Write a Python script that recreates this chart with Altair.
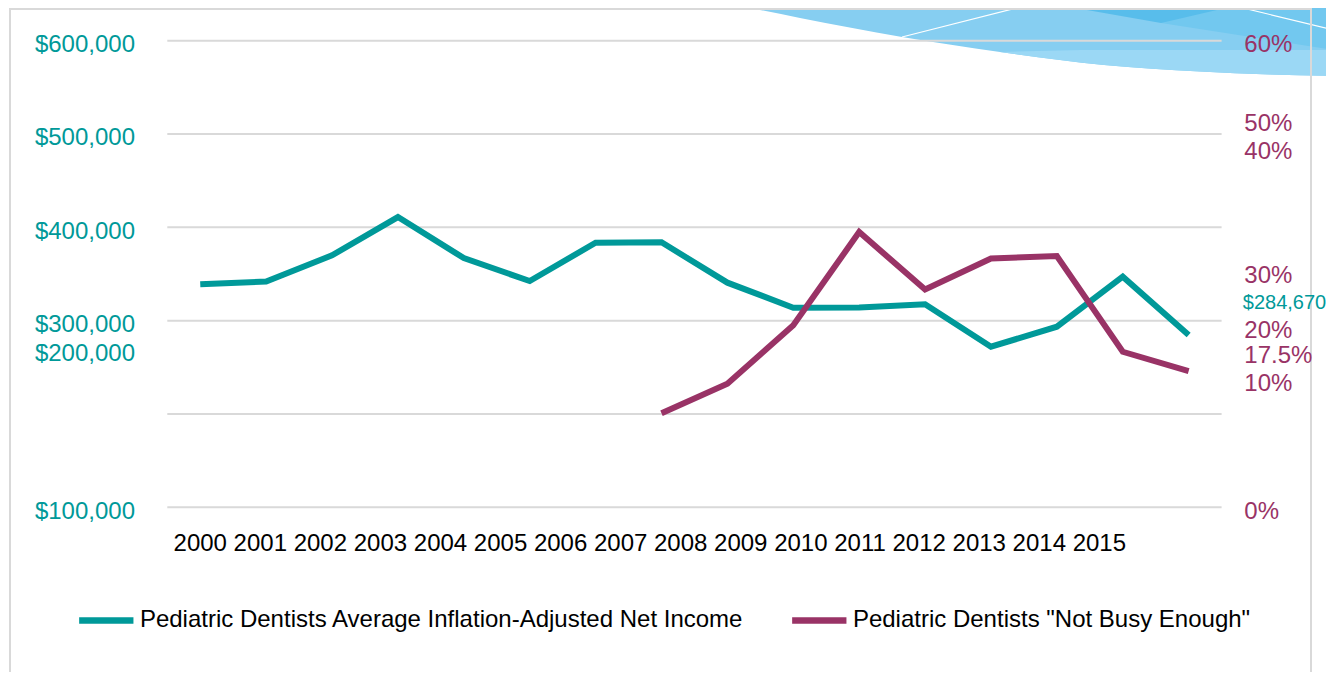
import altair as alt
import pandas as pd

# ---------------- data ----------------
years = list(range(2000, 2016))
income = [339000, 342000, 370000, 411000, 367000, 342500, 383500, 384000,
          340700, 313900, 314000, 317500, 272100, 293500, 347100, 284670]
busy_years = list(range(2007, 2016))
not_busy = [12.1, 15.9, 23.4, 35.4, 28.0, 32.0, 32.3, 20.0, 17.5]

series_names = ["Pediatric Dentists Average Inflation-Adjusted Net Income",
                'Pediatric Dentists "Not Busy Enough"']
series_colors = ["#009999", "#993366"]

grid_values = [100000, 200000, 300000, 400000, 500000, 600000]
left_labels = ["$600,000", "$500,000", "$400,000", "$300,000", "$200,000", "$100,000"]
left_label_values = [600000, 500000, 400000, 300000, 269400, 100000]
right_labels = ["60%", "50%", "40%", "30%", "20%", "17.5%", "10%", "0%"]
right_label_values = [60, 49.8, 46.2, 30.3, 23.3, 20.0, 16.4, 0]
end_label = ["$284,670"]
end_label_value = [26.8]

# decorative swoosh in the top-right corner (page pixel space)
swoosh_x = [712, 800, 902, 1000, 1104, 1200, 1270, 1334]
swoosh_lower = [0, 18, 37, 52, 65, 71.5, 74.5, 76]
band_x = [1000, 1104, 1200, 1270, 1334]
band_top = [52, 50, 50, 50, 50]
band_bottom = [52, 65, 71.5, 74.5, 76]
mid_x = [1161, 1334]
mid_y = [23, 50]
dark_x = [1030, 1161, 1260]
dark_y = [0, 23, 0]
white_x = [902, 1210]
white_y = [37, 0]
white_x2 = [1048, 1334]
white_y2 = [0, 30]
frame_box = {"x": [10], "y": [9], "x2": [1311], "y2": [720]}

# ---------------- layout ----------------
FONT = "Liberation Sans"
W, H = 1054.3, 466.6
PL, PT = 159.3, 32.7
TOTAL_W, TOTAL_H = 1318, 664
PR = TOTAL_W - PL - W
PB = TOTAL_H - PT - H

PX = alt.Scale(domain=[0, 1334], range=[-(8 + PL), 1334 - (8 + PL)], zero=False, nice=False)
PY = alt.Scale(domain=[0, 674], range=[-(8 + PT), 674 - (8 + PT)], zero=False, nice=False)
XS = alt.Scale(domain=[1999.5, 2015.5], zero=False, nice=False)
YLS = alt.Scale(domain=[100000, 600000], zero=False, nice=False)
YRS = alt.Scale(domain=[0, 60], zero=False, nice=False)

# ---------------- decoration ----------------
sw = pd.DataFrame({"px": swoosh_x, "py": swoosh_lower, "top": [0] * len(swoosh_x)})
base = alt.Chart(sw).mark_area(color="#86CEF1", interpolate="monotone").encode(
    x=alt.X("px:Q", scale=PX, axis=None),
    y=alt.Y("py:Q", scale=PY, axis=None),
    y2="top:Q",
)
bd = pd.DataFrame({"px": band_x, "t": band_top, "b": band_bottom})
band = alt.Chart(bd).mark_area(color="#9BD8F5", interpolate="monotone").encode(
    x=alt.X("px:Q", scale=PX, axis=None),
    y=alt.Y("b:Q", scale=PY, axis=None),
    y2="t:Q",
)
md = pd.DataFrame({"px": mid_x, "py": mid_y, "top": [0] * len(mid_x)})
mid = alt.Chart(md).mark_area(color="#72C8EF").encode(
    x=alt.X("px:Q", scale=PX, axis=None),
    y=alt.Y("py:Q", scale=PY, axis=None),
    y2="top:Q",
)
dk = pd.DataFrame({"px": dark_x, "py": dark_y, "top": [0] * len(dark_x)})
dark = alt.Chart(dk).mark_area(color="#58BDEB").encode(
    x=alt.X("px:Q", scale=PX, axis=None),
    y=alt.Y("py:Q", scale=PY, axis=None),
    y2="top:Q",
)
wl = pd.DataFrame({"x": white_x, "y": white_y, "x2": white_x2, "y2": white_y2})
white = alt.Chart(wl).mark_rule(color="#ffffff", strokeWidth=1.2).encode(
    x=alt.X("x:Q", scale=PX, axis=None),
    y=alt.Y("y:Q", scale=PY, axis=None),
    x2="x2:Q",
    y2="y2:Q",
)
fr = pd.DataFrame(frame_box)
frame = alt.Chart(fr).mark_rect(fill="transparent", stroke="#d9d9d9", strokeWidth=2).encode(
    x=alt.X("x:Q", scale=PX, axis=None),
    y=alt.Y("y:Q", scale=PY, axis=None),
    x2="x2:Q",
    y2="y2:Q",
)

# ---------------- chart ----------------
grid = alt.Chart(pd.DataFrame({"v": grid_values})).mark_rule(
    color="#d9d9d9", strokeWidth=2
).encode(
    y=alt.Y("v:Q", scale=YLS, axis=None),
    x=alt.value(0),
    x2=alt.value(W),
)

legend = alt.Legend(
    title=None, orient="none", legendX=-91.5, legendY=549, direction="horizontal",
    symbolType="stroke", symbolStrokeWidth=6.5, symbolSize=2948,
    labelFontSize=24, labelFont=FONT, labelColor="#000000", labelLimit=0,
    labelOffset=3.1, columnPadding=35, padding=0,
)
color_scale = alt.Scale(domain=series_names, range=series_colors)

inc_df = pd.DataFrame({"year": years, "value": income, "series": series_names[0]})
busy_df = pd.DataFrame({"year": busy_years, "value": not_busy, "series": series_names[1]})

teal = alt.Chart(inc_df).mark_line(strokeWidth=6, strokeCap="butt").encode(
    x=alt.X("year:Q", scale=XS, axis=None),
    y=alt.Y("value:Q", scale=YLS, axis=None),
    color=alt.Color("series:N", scale=color_scale, legend=legend),
)
purple = alt.Chart(busy_df).mark_line(strokeWidth=6, strokeCap="butt").encode(
    x=alt.X("year:Q", scale=XS, axis=None),
    y=alt.Y("value:Q", scale=YRS, axis=None),
    color=alt.Color("series:N", scale=color_scale, legend=legend),
)

ll = alt.Chart(pd.DataFrame({"t": left_labels, "v": left_label_values})).mark_text(
    align="right", baseline="middle", fontSize=24, font=FONT, color="#009999", dy=4.4
).encode(
    y=alt.Y("v:Q", scale=YLS, axis=None),
    x=alt.value(-32.3),
    text="t:N",
)
rl = alt.Chart(pd.DataFrame({"t": right_labels, "v": right_label_values})).mark_text(
    align="left", baseline="middle", fontSize=24, font=FONT, color="#993366", dy=4.4
).encode(
    y=alt.Y("v:Q", scale=YRS, axis=None),
    x=alt.value(1077),
    text="t:N",
)
el = alt.Chart(pd.DataFrame({"t": end_label, "v": end_label_value})).mark_text(
    align="left", baseline="middle", fontSize=20, font=FONT, color="#009999", dy=4.2
).encode(
    y=alt.Y("v:Q", scale=YRS, axis=None),
    x=alt.value(1075.5),
    text="t:N",
)
xl = alt.Chart(pd.DataFrame({"year": [years[0]], "t": [" ".join(str(y) for y in years)]})).mark_text(
    align="left", baseline="middle", fontSize=24, font=FONT, color="#000000", dx=-26.7
).encode(
    x=alt.X("year:Q", scale=XS, axis=None),
    y=alt.value(503),
    text="t:N",
)

chart = alt.layer(
    base, band, mid, dark, white, frame, grid, teal, purple, ll, rl, el, xl
).resolve_scale(
    x="independent", y="independent"
).properties(
    width=W, height=H,
    autosize=alt.AutoSizeParams(type="none"),
    padding={"left": PL, "top": PT, "right": PR, "bottom": PB},
).configure_view(strokeWidth=0)

chart.save("out.html", embed_options={"renderer": "svg", "actions": False})
